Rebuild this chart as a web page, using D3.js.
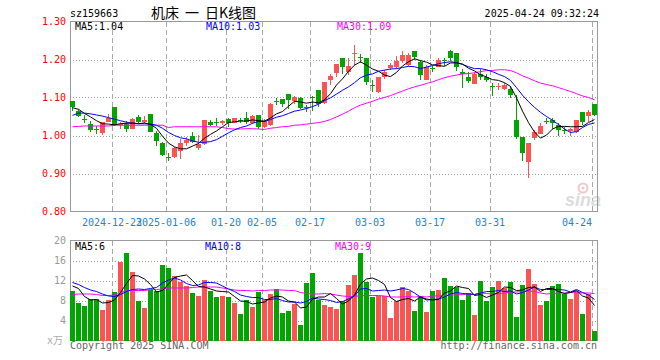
<!DOCTYPE html>
<html>
<head>
<meta charset="utf-8">
<script src="https://cdn.jsdelivr.net/npm/d3@7"></script>
<style>
body{margin:0;background:#fff;}
text{font-family:"DejaVu Sans Mono","Noto Sans CJK SC",monospace;font-size:10px;}
</style>
</head>
<body>
<svg width="660" height="360"></svg>
<script>
const dates = ['2024-12-12','2024-12-13','2024-12-16','2024-12-17','2024-12-18','2024-12-19','2024-12-20','2024-12-23','2024-12-24','2024-12-25','2024-12-26','2024-12-27','2024-12-30','2024-12-31',
    '2025-01-02','2025-01-03','2025-01-06','2025-01-07','2025-01-08','2025-01-09','2025-01-10','2025-01-13','2025-01-14','2025-01-15','2025-01-16','2025-01-17','2025-01-20','2025-01-21','2025-01-22','2025-01-23','2025-01-24','2025-01-27',
    '2025-02-05','2025-02-06','2025-02-07','2025-02-10','2025-02-11','2025-02-12','2025-02-13','2025-02-14','2025-02-17','2025-02-18','2025-02-19','2025-02-20','2025-02-21','2025-02-24','2025-02-25','2025-02-26','2025-02-27','2025-02-28',
    '2025-03-03','2025-03-04','2025-03-05','2025-03-06','2025-03-07','2025-03-10','2025-03-11','2025-03-12','2025-03-13','2025-03-14','2025-03-17','2025-03-18','2025-03-19','2025-03-20','2025-03-21','2025-03-24','2025-03-25','2025-03-26','2025-03-27','2025-03-28','2025-03-31',
    '2025-04-01','2025-04-02','2025-04-03','2025-04-07','2025-04-08','2025-04-09','2025-04-10','2025-04-11','2025-04-14','2025-04-15','2025-04-16','2025-04-17','2025-04-18','2025-04-21','2025-04-22','2025-04-23','2025-04-24'];

const tickDates = ['2024-12-23','2025-01-06','2025-01-20','2025-02-05','2025-02-17','2025-03-03','2025-03-17','2025-03-31','2025-04-24'];
const tickLabels = ['2024-12-23','2025-01-06','01-20','02-05','02-17','03-03','03-17','03-31','04-24'];

const open = [1.090,1.065,1.043,1.030,1.017,1.007,1.035,1.075,1.027,1.031,
    1.017,1.048,1.036,1.056,1.007,0.981,0.944,0.943,0.960,0.979,
    0.998,0.968,0.977,1.036,1.036,1.034,1.044,1.034,1.041,1.045,
    1.033,1.053,1.023,1.027,1.092,1.096,1.109,1.090,1.098,1.075,
    1.102,1.119,1.086,1.146,1.165,1.204,1.167,1.214,1.207,1.204,
    1.132,1.115,1.154,1.177,1.181,1.196,1.185,1.222,1.194,1.147,
    1.177,1.181,1.199,1.222,1.216,1.167,1.154,1.135,1.163,1.154,
    1.129,1.129,1.123,1.123,1.040,0.995,0.931,0.994,1.005,1.038,
    1.040,1.027,1.015,1.012,1.010,1.061,1.051,1.082];
const high = [1.090,1.069,1.053,1.037,1.025,1.035,1.056,1.075,1.036,1.038,
    1.046,1.053,1.051,1.056,1.012,0.983,0.955,0.971,0.990,0.996,
    1.009,1.001,1.040,1.040,1.047,1.042,1.046,1.047,1.047,1.062,
    1.054,1.055,1.043,1.086,1.100,1.096,1.109,1.104,1.102,1.080,
    1.105,1.119,1.141,1.163,1.188,1.204,1.203,1.238,1.214,1.204,
    1.147,1.155,1.172,1.191,1.209,1.223,1.216,1.222,1.200,1.185,
    1.182,1.203,1.205,1.225,1.216,1.174,1.167,1.168,1.174,1.163,
    1.139,1.137,1.137,1.130,1.106,0.995,0.981,1.014,1.032,1.047,
    1.045,1.032,1.023,1.020,1.042,1.061,1.067,1.082];
const low = [1.065,1.048,1.033,1.010,1.004,1.001,1.035,1.025,1.016,1.010,
    1.016,1.032,1.032,1.008,0.972,0.945,0.933,0.940,0.939,0.972,
    0.979,0.963,0.976,1.025,1.025,1.027,1.023,1.032,1.033,1.030,
    1.030,1.016,1.019,1.024,1.080,1.075,1.071,1.084,1.069,1.062,
    1.064,1.075,1.084,1.132,1.153,1.161,1.160,1.185,1.191,1.132,
    1.115,1.112,1.150,1.172,1.176,1.191,1.182,1.199,1.147,1.146,
    1.168,1.179,1.182,1.196,1.169,1.125,1.139,1.135,1.146,1.141,
    1.104,1.121,1.119,1.100,0.992,0.933,0.889,0.989,1.004,1.030,
    1.018,0.998,1.005,1.000,1.007,1.027,1.036,1.051];
const close = [1.075,1.052,1.040,1.014,1.015,1.035,1.047,1.027,1.031,1.018,
    1.043,1.035,1.040,1.010,0.986,0.948,0.942,0.968,0.979,0.989,
    0.982,0.977,1.040,1.028,1.035,1.037,1.032,1.047,1.040,1.036,
    1.052,1.022,1.038,1.082,1.090,1.084,1.093,1.102,1.073,1.073,
    1.099,1.082,1.141,1.157,1.188,1.179,1.182,1.217,1.204,1.141,
    1.130,1.154,1.166,1.186,1.196,1.211,1.211,1.207,1.159,1.179,
    1.175,1.200,1.197,1.205,1.179,1.161,1.144,1.163,1.154,1.147,
    1.128,1.131,1.133,1.106,0.995,0.954,0.981,1.010,1.025,1.036,
    1.033,1.014,1.013,1.017,1.040,1.036,1.062,1.054];

const ma5 = [1.073,1.069,1.058,1.049,1.039,1.031,1.030,1.028,1.031,1.032,
    1.033,1.031,1.033,1.029,1.019,0.998,0.980,0.970,0.965,0.965,
    0.972,0.979,0.993,1.003,1.012,1.023,1.034,1.036,1.038,1.038,
    1.041,1.039,1.038,1.046,1.057,1.063,1.077,1.090,1.088,1.085,
    1.088,1.086,1.094,1.110,1.133,1.149,1.169,1.185,1.194,1.185,
    1.175,1.169,1.159,1.155,1.166,1.183,1.194,1.202,1.197,1.193,
    1.186,1.184,1.182,1.191,1.191,1.188,1.177,1.170,1.160,1.154,
    1.147,1.145,1.139,1.129,1.099,1.064,1.034,1.009,0.993,1.001,
    1.017,1.024,1.024,1.023,1.023,1.024,1.034,1.042];
const ma10 = [1.053,1.059,1.059,1.057,1.054,1.051,1.047,1.043,1.039,1.035,
    1.032,1.031,1.031,1.030,1.027,1.019,1.008,1.000,0.994,0.991,
    0.986,0.982,0.982,0.984,0.989,0.998,1.007,1.015,1.021,1.025,
    1.032,1.037,1.037,1.042,1.048,1.052,1.058,1.064,1.067,1.071,
    1.076,1.082,1.092,1.099,1.109,1.119,1.128,1.139,1.152,1.159,
    1.162,1.169,1.172,1.175,1.176,1.179,1.182,1.181,1.176,1.180,
    1.184,1.189,1.192,1.194,1.192,1.187,1.181,1.176,1.176,1.173,
    1.168,1.161,1.155,1.145,1.126,1.106,1.089,1.074,1.061,1.050,
    1.040,1.029,1.017,1.008,1.010,1.021,1.029,1.033];
const ma30 = [1.023,1.024,1.025,1.025,1.025,1.025,1.025,1.027,1.027,1.027,
    1.027,1.027,1.027,1.027,1.027,1.027,1.021,1.023,1.023,1.023,
    1.023,1.023,1.023,1.023,1.023,1.021,1.018,1.017,1.017,1.018,
    1.018,1.017,1.016,1.019,1.021,1.023,1.024,1.027,1.028,1.030,
    1.032,1.034,1.037,1.042,1.049,1.056,1.064,1.073,1.080,1.085,
    1.090,1.096,1.100,1.105,1.111,1.117,1.123,1.128,1.132,1.137,
    1.141,1.147,1.152,1.156,1.159,1.162,1.163,1.165,1.168,1.171,
    1.171,1.173,1.173,1.171,1.165,1.157,1.151,1.144,1.138,1.134,
    1.131,1.126,1.121,1.116,1.110,1.104,1.100,1.094];

const volume = [9.9,7.5,6.9,8.4,8.4,6.1,8.1,9.7,15.7,17.5,
    13.8,8.0,6.5,10.2,10.0,15.2,14.6,13.0,11.7,11.0,
    9.5,9.0,12.2,9.9,8.8,9.0,8.8,7.6,5.4,8.1,
    6.8,9.8,8.2,9.4,10.4,5.6,6.0,7.3,3.2,11.6,
    13.5,8.1,7.1,6.8,6.4,8.0,11.2,13.2,17.5,11.7,
    8.8,8.9,8.9,4.6,7.9,10.8,10.0,6.0,9.0,5.7,
    10.0,10.2,12.6,11.0,10.8,8.2,9.6,5.2,12.0,8.0,
    10.7,12.0,10.6,11.8,4.8,11.2,14.4,11.4,7.2,7.9,
    11.0,11.4,9.4,8.4,9.9,5.4,9.3,2.0];
const volMa5 = [10.9,10.4,8.8,8.1,8.2,7.5,7.6,8.1,9.6,11.4,
    13.0,12.9,12.3,11.2,9.7,10.0,11.3,12.6,12.9,13.1,
    12.0,10.8,10.7,10.3,9.9,9.8,9.7,8.8,7.9,7.8,
    7.3,7.5,7.7,8.5,8.9,8.7,7.9,7.7,6.5,6.7,
    8.3,8.7,8.7,9.4,8.4,7.3,7.9,9.1,11.3,12.3,
    12.5,12.0,11.2,8.6,7.8,8.2,8.4,7.9,8.7,8.3,
    8.1,8.2,9.5,9.9,10.9,10.6,10.4,9.0,9.2,8.6,
    9.1,9.6,10.7,10.6,10.0,10.1,10.6,10.7,9.8,10.4,
    10.4,9.8,9.4,9.6,10.0,8.9,8.5,7.0];
const volMa10 = [11.6,11.2,10.6,10.1,9.8,9.3,8.9,8.8,9.2,9.8,
    10.2,10.3,10.2,10.4,10.6,11.5,12.1,12.5,12.1,11.4,
    11.0,11.1,11.6,11.6,11.5,10.9,10.3,9.8,9.1,8.8,
    8.6,8.6,8.2,8.2,8.4,8.0,7.7,7.7,7.5,7.8,
    8.5,8.3,8.2,8.0,7.6,7.8,8.3,8.9,10.3,10.4,
    9.9,10.0,10.1,9.9,10.1,10.4,10.2,9.5,8.7,8.1,
    8.2,8.3,8.7,9.3,9.6,9.4,9.3,9.2,9.5,9.8,
    9.8,10.0,9.8,9.9,9.3,9.6,10.1,10.7,10.2,10.2,
    10.2,10.2,10.1,9.7,10.2,9.6,9.1,8.2];
const volMa30 = [9.2,9.3,9.3,9.3,9.2,9.0,9.0,9.1,9.5,10.0,
    10.0,10.0,10.0,10.2,10.2,10.3,10.5,10.5,10.5,10.5,
    10.6,10.7,10.7,10.7,10.7,10.5,10.3,10.1,10.0,10.0,
    9.9,10.0,10.0,10.1,10.1,10.1,10.0,10.0,9.6,9.4,
    9.3,9.3,9.4,9.3,9.1,8.9,8.8,8.8,9.0,9.0,
    9.0,9.0,8.9,8.7,8.7,8.7,8.8,8.7,8.8,8.7,
    8.9,8.9,9.0,9.1,9.1,9.2,9.3,9.2,9.5,9.4,
    9.3,9.4,9.5,9.7,9.7,9.8,9.9,9.8,9.5,9.3,
    9.4,9.5,9.5,9.6,9.7,9.5,9.5,9.4];

const priceTicks = [0.8,0.9,1.0,1.1,1.2,1.3];
const volTicks = [4,8,12,16,20];

const UP = '#ff5252', DOWN = '#00a600';

let svg = d3.select('svg');
let x = d3.scaleBand().domain(dates).range([69.5, 597.5]).paddingInner(1/6).paddingOuter(1/12),
    bw = x.bandwidth(),
    yP = d3.scaleLinear().domain([0.8, 1.3]).range([211.5, 21.5]),
    yV = d3.scaleLinear().domain([0, 20]).range([340.5, 240.5]);

let rows = dates.map((d, i) => ({date: d, o: open[i], h: high[i], l: low[i], c: close[i], v: volume[i]}));
let color = d => d.c >= d.o ? UP : DOWN;

// header
svg.append('text').attr('x', 70).attr('y', 17).text('sz159663');
[['机床', 151], ['一', 185], ['日K线图', 205]].forEach(t => {
    svg.append('text').attr('x', t[1]).attr('y', 18)
        .style('font-family', '"Noto Sans CJK SC"').style('font-size', '14px')
        .text(t[0]);
});
svg.append('text').attr('x', 599).attr('y', 17).attr('text-anchor', 'end').text('2025-04-24 09:32:24');

// grids
function grid(yScale, ticks, top, bottom){
    svg.append('g').selectAll('line').data(ticks).enter().append('line')
        .attr('x1', 70).attr('x2', 597)
        .attr('y1', d => Math.round(yScale(d)) + 0.5).attr('y2', d => Math.round(yScale(d)) + 0.5)
        .attr('stroke', '#a0a0a0').attr('stroke-dasharray', '1,2');
    svg.append('g').selectAll('line').data(tickDates).enter().append('line')
        .attr('x1', d => x(d) + 0.5).attr('x2', d => x(d) + 0.5)
        .attr('y1', top).attr('y2', bottom)
        .attr('stroke', '#a8a8a8').attr('stroke-dasharray', '5,3');
}
grid(yP, [0.9, 1.0, 1.1, 1.2], 22, 211);
grid(yV, [4, 8, 12, 16], 241, 340);

// watermark
let wm = svg.append('g');
wm.append('circle').attr('cx', 583).attr('cy', 188).attr('r', 4.5).attr('fill', 'none').attr('stroke', '#f0c8c8').attr('stroke-width', 2);
wm.append('circle').attr('cx', 583).attr('cy', 188).attr('r', 1.5).attr('fill', '#f0c8c8');
wm.append('text').attr('x', 565).attr('y', 206)
    .style('font-family', '"Liberation Sans"').style('font-size', '18px')
    .style('font-weight', 'bold').style('font-style', 'italic')
    .attr('fill', '#dcdcdc').text('sina');

// frames
svg.append('rect').attr('x', 70.5).attr('y', 21.5).attr('width', 527).attr('height', 190)
    .attr('fill', 'none').attr('stroke', '#999');
svg.append('rect').attr('x', 70.5).attr('y', 240.5).attr('width', 527).attr('height', 100)
    .attr('fill', 'none').attr('stroke', '#999');

// candles
let candles = svg.append('g').attr('shape-rendering', 'crispEdges')
    .selectAll('g').data(rows).enter().append('g');
candles.append('line')
    .attr('x1', d => x(d.date) + bw/2).attr('x2', d => x(d.date) + bw/2)
    .attr('y1', d => yP(d.h)).attr('y2', d => yP(d.l))
    .attr('stroke', color);
candles.append('rect')
    .attr('x', d => x(d.date)).attr('width', bw)
    .attr('y', d => yP(Math.max(d.o, d.c)))
    .attr('height', d => Math.max(1, Math.abs(yP(d.o) - yP(d.c))))
    .attr('fill', color);

// volume bars
svg.append('g').attr('shape-rendering', 'crispEdges')
    .selectAll('rect').data(rows).enter().append('rect')
    .attr('x', d => x(d.date)).attr('width', bw)
    .attr('y', d => yV(d.v)).attr('height', d => yV(0) - yV(d.v))
    .attr('fill', color);

// moving averages
function maLine(values, yScale, stroke){
    let line = d3.line().x((d, i) => x(dates[i]) + bw/2).y(d => yScale(d));
    svg.append('path').datum(values).attr('d', line)
        .attr('fill', 'none').attr('stroke', stroke).attr('stroke-width', 1);
}
maLine(ma30, yP, '#ff00ff');
maLine(ma10, yP, '#0000ff');
maLine(ma5, yP, '#000000');
maLine(volMa30, yV, '#ff00ff');
maLine(volMa10, yV, '#0000ff');
maLine(volMa5, yV, '#000000');

// legends
[['MA5:1.04', 75, '#000'], ['MA10:1.03', 206, '#0000ff'], ['MA30:1.09', 337, '#ff00ff']].forEach(l => {
    svg.append('text').attr('x', l[1]).attr('y', 30).attr('fill', l[2]).text(l[0]);
});
[['MA5:6', 75, '#000'], ['MA10:8', 205, '#0000ff'], ['MA30:9', 335, '#ff00ff']].forEach(l => {
    svg.append('text').attr('x', l[1]).attr('y', 250).attr('fill', l[2]).text(l[0]);
});

// axes
let axP = svg.append('g').attr('transform', 'translate(66,0)')
    .call(d3.axisLeft(yP).tickValues(priceTicks).tickFormat(d3.format('.2f')).tickSize(0).tickPadding(0));
axP.select('.domain').remove();
axP.selectAll('text').attr('fill', '#ff0000').style('font-size', '10px').style('font-family', '"DejaVu Sans Mono"');

let axV = svg.append('g').attr('transform', 'translate(66,0)')
    .call(d3.axisLeft(yV).tickValues(volTicks).tickFormat(d3.format('d')).tickSize(0).tickPadding(0));
axV.select('.domain').remove();
axV.selectAll('text').attr('fill', '#999').style('font-size', '10px').style('font-family', '"DejaVu Sans Mono"');
svg.append('text').attr('x', 63).attr('y', 344).attr('text-anchor', 'end').attr('fill', '#aaa').text('x万');

let axX = svg.append('g').attr('transform', `translate(${-bw/2},211.5)`)
    .call(d3.axisBottom(x).tickValues(tickDates).tickFormat((d, i) => tickLabels[i]).tickSize(0).tickPadding(7));
axX.select('.domain').remove();
axX.selectAll('text').attr('fill', '#1a86d4').style('font-size', '10px').style('font-family', '"DejaVu Sans Mono"')
    .filter((d, i) => i == tickDates.length - 1).attr('text-anchor', 'end');

// footer
svg.append('text').attr('x', 70).attr('y', 349).attr('fill', '#666').text('Copyright 2025 SINA.COM');
svg.append('text').attr('x', 597).attr('y', 349).attr('text-anchor', 'end').attr('fill', '#666').text('http://finance.sina.com.cn');
</script>
</body>
</html>
